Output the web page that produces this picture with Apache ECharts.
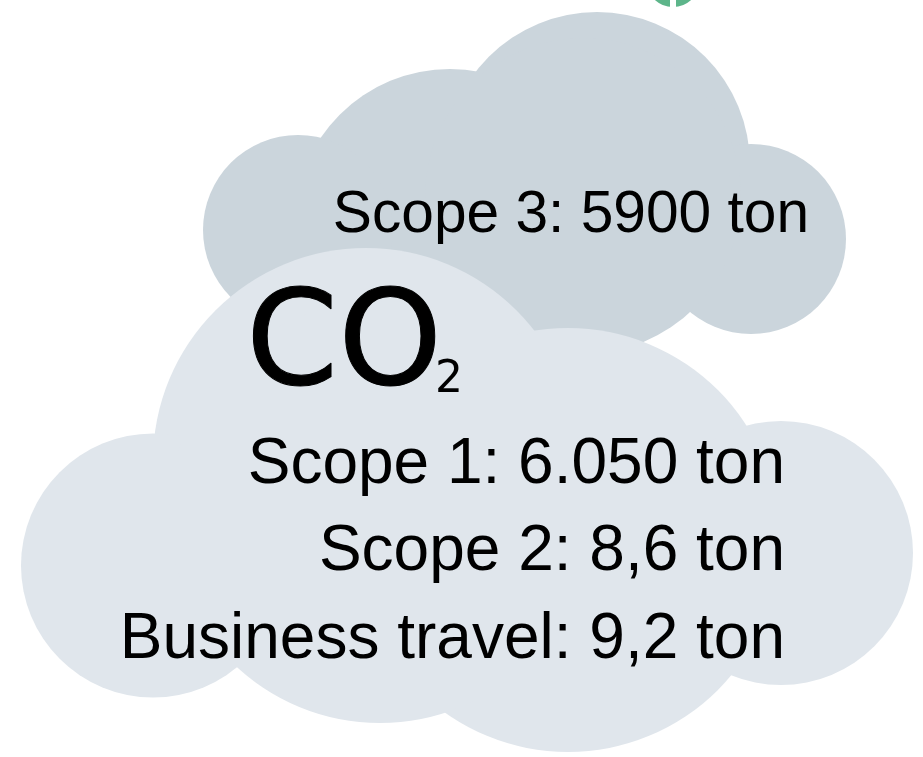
<!DOCTYPE html>
<html><head><meta charset="utf-8">
<style>html,body{margin:0;padding:0;background:#fff}#c{width:923px;height:757px}</style>
<script src="https://cdn.jsdelivr.net/npm/echarts@6/dist/echarts.min.js"></script>
</head><body><div id="c"></div>
<script>
const backCloud = [[597,165,306],[450,225,312],[298,230,190],[751,239,190],[583,196,316]];
const frontCloud = [[366,461,426],[568,540,424],[153,565.5,264],[781,553,264],[380,512,422]];
const leaf = [[673,-20,54]];
const leafGap = [[673,-5,6]];
const scopeLabels = [
  {x:809,y:216,text:'Scope 3: 5900 ton'},
  {x:785,y:465,text:'Scope 1: 6.050 ton'},
  {x:785,y:552,text:'Scope 2: 8,6 ton'},
  {x:785,y:640,text:'Business travel: 9,2 ton'}
];
const titleMain = {x:246,y:350,text:'CO'};
const titleSub = {x:435,y:381,text:'2'};
const FONT='"Liberation Sans", Arial, sans-serif';
const FONT2='"DejaVu Sans", sans-serif';
function circles(data,color,z){
  return {type:'scatter',data:data.map(d=>[d[0],d[1]]),symbol:'circle',
    symbolSize:(v,p)=>data[p.dataIndex][2],clip:false,z:z,silent:true,
    itemStyle:{color:color,opacity:1,borderWidth:0}};
}
function texts(items,size,align,z,font,stroke){
  return {type:'scatter',data:items.map(d=>({value:[d.x,d.y],text:d.text})),symbolSize:0,clip:false,z:z,silent:true,
    itemStyle:{opacity:1},
    label:{show:true,position:'inside',opacity:1,formatter:p=>p.data.text,color:'#000',fontFamily:font||FONT,fontSize:size,align:align,verticalAlign:'middle',
      textBorderColor:stroke?'#000':'transparent',textBorderWidth:stroke||0}};
}
const chart=echarts.init(document.getElementById('c'),null,{renderer:'canvas'});
chart.setOption({
  animation:false,backgroundColor:'#fff',
  grid:{left:0,right:0,top:0,bottom:0,containLabel:false},
  xAxis:{type:'value',min:0,max:923,show:false},
  yAxis:{type:'value',min:0,max:757,inverse:true,show:false},
  series:[
    circles(leaf,'#5db58a',1),
    {type:'scatter',data:leafGap.map(d=>[d[0],d[1]]),symbol:'rect',symbolSize:[leafGap[0][2],24],clip:false,z:2,silent:true,itemStyle:{color:'#fff',opacity:1}},
    circles(backCloud,'#cbd5dc',3),
    texts(scopeLabels.slice(0,1),58.67,'right',4),
    circles(frontCloud,'#e0e6ec',5),
    texts(scopeLabels.slice(1),64,'right',6),
    texts([titleMain],132,'left',6,FONT2,1),
    texts([titleSub],44,'left',6,FONT2)
  ]
});
</script></body></html>
